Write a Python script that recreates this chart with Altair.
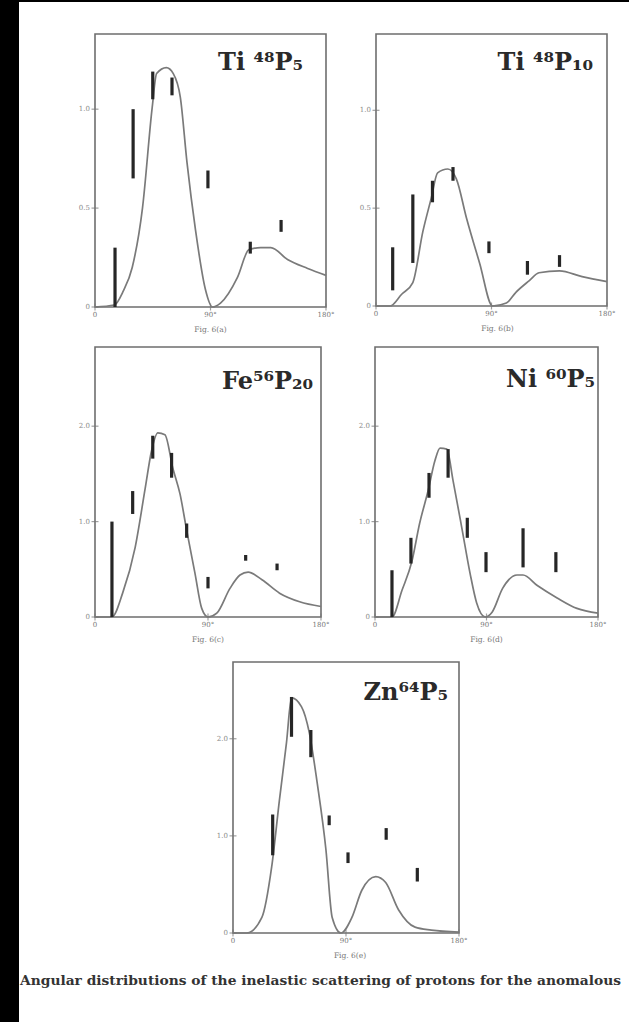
import altair as alt
import pandas as pd

# ---------------- data ----------------
titles = ["Ti \u2074\u2078P\u2085", "Ti \u2074\u2078P\u2081\u2080", "Fe\u2075\u2076P\u2082\u2080",
          "Ni \u2076\u2070P\u2085", "Zn\u2076\u2074P\u2085"]
captions = ["Fig. 6(a)", "Fig. 6(b)", "Fig. 6(c)", "Fig. 6(d)", "Fig. 6(e)"]
footer = "Angular distributions of the inelastic scattering of protons for the anomalous"

x_tick_values = [0, 90, 180]
x_tick_labels = ["0", "90\u00b0", "180\u00b0"]
y_tick_values = [[0, 0.5, 1.0], [0, 0.5, 1.0], [0, 1.0, 2.0], [0, 1.0, 2.0], [0, 1.0, 2.0]]
y_tick_labels = [["0", "0.5", "1.0"], ["0", "0.5", "1.0"], ["0", "1.0", "2.0"],
                 ["0", "1.0", "2.0"], ["0", "1.0", "2.0"]]
y_max = [1.38, 1.39, 2.83, 2.83, 2.79]

# (a) Ti48 P5
a_curve_angle = [0, 15, 22, 29, 37, 44.6, 48, 55.6, 61, 66.5, 71.7, 78.3, 86, 91.5, 97.8, 111, 120, 129, 137, 150, 165.7, 180]
a_curve_value = [0, 0.01, 0.08, 0.2, 0.5, 1.01, 1.18, 1.21, 1.18, 1.06, 0.73, 0.39, 0.09, 0.0, 0.02, 0.15, 0.29, 0.30, 0.30, 0.24, 0.195, 0.16]
a_bar_angle = [15.6, 29.7, 45, 60, 88, 121, 145]
a_bar_low = [0.0, 0.65, 1.05, 1.07, 0.60, 0.27, 0.38]
a_bar_high = [0.30, 1.0, 1.19, 1.16, 0.69, 0.33, 0.44]

# (b) Ti48 P10
b_curve_angle = [0, 11, 20, 28.7, 36.5, 43, 48, 56, 62.6, 70.5, 80.7, 90.8, 101.6, 109, 119.5, 127, 143, 160.6, 180]
b_curve_value = [0, 0.0, 0.06, 0.12, 0.38, 0.55, 0.68, 0.70, 0.65, 0.45, 0.22, 0.0, 0.015, 0.07, 0.13, 0.17, 0.18, 0.15, 0.125]
b_bar_angle = [13, 28.7, 44, 60, 88, 118, 143]
b_bar_low = [0.08, 0.22, 0.53, 0.64, 0.27, 0.16, 0.20]
b_bar_high = [0.30, 0.57, 0.64, 0.71, 0.33, 0.23, 0.26]

# (c) Fe56 P20
c_curve_angle = [0, 13.5, 22, 32, 40, 45, 50, 55.7, 62, 67.7, 73, 79.6, 85, 90, 97, 107.5, 115.5, 122, 133, 147, 163, 180]
c_curve_value = [0, 0, 0.25, 0.73, 1.35, 1.74, 1.93, 1.91, 1.56, 1.29, 0.91, 0.46, 0.09, 0, 0.04, 0.30, 0.44, 0.47, 0.39, 0.25, 0.16, 0.11]
c_bar_angle = [13.5, 30, 46, 61, 73, 90, 120, 145]
c_bar_low = [0, 1.08, 1.66, 1.46, 0.83, 0.30, 0.59, 0.49]
c_bar_high = [1.0, 1.32, 1.90, 1.72, 0.98, 0.42, 0.65, 0.56]

# (d) Ni60 P5
d_curve_angle = [0, 13.7, 21.8, 29.9, 36, 42.8, 48.4, 52.5, 58, 63, 70, 76.7, 82, 89, 94.5, 103, 114.6, 119.5, 131, 147, 163, 180]
d_curve_value = [0, 0, 0.28, 0.59, 0.98, 1.32, 1.64, 1.77, 1.76, 1.43, 0.94, 0.46, 0.15, 0, 0.05, 0.30, 0.44, 0.44, 0.33, 0.20, 0.09, 0.04]
d_bar_angle = [13.7, 29, 43.6, 59, 74.5, 89.6, 119.5, 146]
d_bar_low = [0, 0.56, 1.25, 1.46, 0.83, 0.47, 0.52, 0.47]
d_bar_high = [0.49, 0.83, 1.51, 1.76, 1.04, 0.68, 0.93, 0.68]

# (e) Zn64 P5
e_curve_angle = [0, 11, 23, 30.8, 37, 42.6, 46.6, 54.5, 60.8, 67, 74, 79, 86, 94.7, 102.6, 113.7, 121.6, 131.8, 145, 158, 180]
e_curve_value = [0, 0, 0.16, 0.68, 1.37, 1.96, 2.42, 2.33, 2.06, 1.55, 0.86, 0.16, 0, 0.16, 0.44, 0.58, 0.52, 0.24, 0.06, 0.03, 0.01]
e_bar_angle = [31.6, 46.6, 62, 76.6, 91.6, 122, 146.8]
e_bar_low = [0.80, 2.02, 1.81, 1.11, 0.72, 0.96, 0.53]
e_bar_high = [1.22, 2.43, 2.09, 1.21, 0.83, 1.08, 0.67]

curves = [(a_curve_angle, a_curve_value), (b_curve_angle, b_curve_value), (c_curve_angle, c_curve_value),
          (d_curve_angle, d_curve_value), (e_curve_angle, e_curve_value)]
bars = [(a_bar_angle, a_bar_low, a_bar_high), (b_bar_angle, b_bar_low, b_bar_high),
        (c_bar_angle, c_bar_low, c_bar_high), (d_bar_angle, d_bar_low, d_bar_high),
        (e_bar_angle, e_bar_low, e_bar_high)]

# ---------------- page layout (pixels) ----------------
W, H = 629, 1022
panel_x = [(95, 326), (376, 607), (95, 321), (375, 598), (233, 459)]
panel_y = [(307, 34), (306, 34), (617, 347), (617, 347), (933, 662)]
title_inset = [(23, 29), (14, 29), (8, 35), (3, 33), (11, 31)]
caption_dx = [0, 6, 0, 0, 4]

SERIF = "DejaVu Serif"


def panel(i):
    xs = alt.Scale(domain=[0, 180], range=list(panel_x[i]), nice=False, zero=False)
    ys = alt.Scale(domain=[0, y_max[i]], range=list(panel_y[i]), nice=False, zero=False)

    def X(f):
        return alt.X(f, type="quantitative", scale=xs, axis=None)

    def Y(f):
        return alt.Y(f, type="quantitative", scale=ys, axis=None)

    frame_df = pd.DataFrame({"x0": [0], "x1": [180], "y0": [0], "y1": [y_max[i]]})
    frame = alt.Chart(frame_df).mark_rect(fill="white", fillOpacity=0, stroke="#6e6e6e", strokeWidth=1.6).encode(
        x=X("x0"), x2="x1", y=Y("y0"), y2="y1")

    yt = pd.DataFrame({"x": [0] * len(y_tick_values[i]), "v": y_tick_values[i], "t": y_tick_labels[i]})
    ytick = alt.Chart(yt).mark_tick(orient="horizontal", size=7, thickness=1.2, color="#777").encode(
        x=X("x"), y=Y("v"))
    ylab = alt.Chart(yt).mark_text(align="right", baseline="middle", dx=-5, fontSize=7, font=SERIF,
                                   color="#888").encode(x=X("x"), y=Y("v"), text="t:N")

    xt = pd.DataFrame({"v": x_tick_values, "y": [0] * 3, "t": x_tick_labels})
    xtick = alt.Chart(xt).mark_tick(orient="vertical", size=7, thickness=1.2, color="#777").encode(
        x=X("v"), y=Y("y"))
    xlab = alt.Chart(xt).mark_text(align="center", baseline="top", dy=4, fontSize=7, font=SERIF,
                                   color="#777").encode(x=X("v"), y=Y("y"), text="t:N")

    cdf = pd.DataFrame({"a": curves[i][0], "v": curves[i][1]})
    curve = alt.Chart(cdf).mark_line(color="#7a7a7a", strokeWidth=1.7, interpolate="monotone").encode(
        x=X("a"), y=Y("v"))

    bdf = pd.DataFrame({"a": bars[i][0], "lo": bars[i][1], "hi": bars[i][2]})
    bar = alt.Chart(bdf).mark_rule(color="#262626", strokeWidth=3.2).encode(x=X("a"), y=Y("lo"), y2="hi")

    tdf = pd.DataFrame({"x": [180], "y": [y_max[i]], "t": [titles[i]]})
    title = alt.Chart(tdf).mark_text(align="right", baseline="middle", dx=-title_inset[i][0],
                                     dy=title_inset[i][1], fontSize=24, font=SERIF, fontWeight="bold",
                                     color="#2a2a2a").encode(x=X("x"), y=Y("y"), text="t:N")

    capdf = pd.DataFrame({"x": [90], "y": [0], "t": [captions[i]]})
    cap = alt.Chart(capdf).mark_text(align="center", baseline="middle", dy=23, dx=caption_dx[i], fontSize=7.5,
                                     font=SERIF, color="#777").encode(x=X("x"), y=Y("y"), text="t:N")

    return alt.layer(frame, curve, bar, ytick, ylab, xtick, xlab, title, cap)


one = pd.DataFrame({"k": [0]})
strip = alt.Chart(one).mark_rect(color="black").encode(
    x=alt.value(0), x2=alt.value(19), y=alt.value(0), y2=alt.value(H))
topline = alt.Chart(one).mark_rect(color="black").encode(
    x=alt.value(0), x2=alt.value(W), y=alt.value(0), y2=alt.value(2))
foot = alt.Chart(pd.DataFrame({"t": [footer]})).mark_text(
    align="left", baseline="middle", fontSize=13.8, font=SERIF, fontWeight="bold", color="#333").encode(
    x=alt.value(20), y=alt.value(981), text="t:N")

chart = alt.layer(strip, topline, *[panel(i) for i in range(5)], foot).resolve_scale(
    x="independent", y="independent"
).properties(
    width=W, height=H, autosize=alt.AutoSizeParams(type="none"), padding=0, background="white"
).configure_view(strokeWidth=0)

chart.save("out.html", embed_options={"renderer": "svg", "actions": False})
